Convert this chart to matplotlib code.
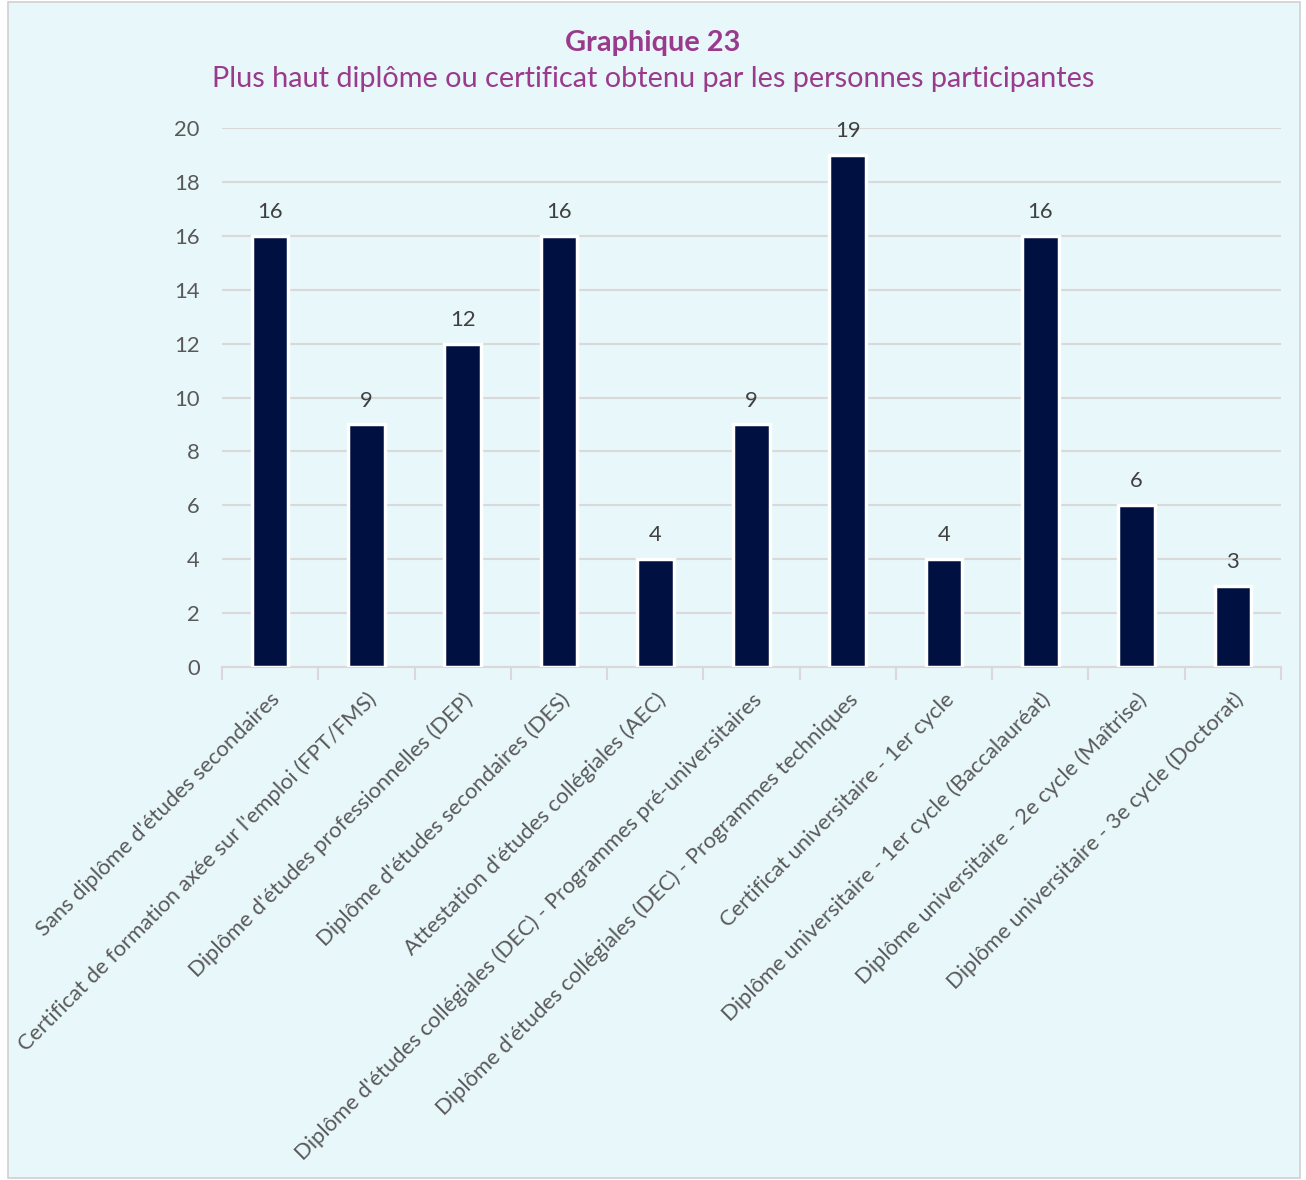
import matplotlib
matplotlib.use("Agg")
import matplotlib.pyplot as plt
from matplotlib.patches import Rectangle
import numpy as np

plt.rcParams["font.family"] = ["Lato", "DejaVu Sans"]

# ── Data ──────────────────────────────────────────────────────────────────────
categories = [
    "Sans diplôme d'études secondaires",
    "Certificat de formation axée sur l'emploi (FPT/FMS)",
    "Diplôme d'études professionnelles (DEP)",
    "Diplôme d'études secondaires (DES)",
    "Attestation d'études collégiales (AEC)",
    "Diplôme d'études collégiales (DEC) - Programmes pré-universitaires",
    "Diplôme d'études collégiales (DEC) - Programmes techniques",
    "Certificat universitaire - 1er cycle",
    "Diplôme universitaire - 1er cycle (Baccalauréat)",
    "Diplôme universitaire - 2e cycle (Maîtrise)",
    "Diplôme universitaire - 3e cycle (Doctorat)",
]
values = [16, 9, 12, 16, 4, 9, 19, 4, 16, 6, 3]
yticks = [0, 2, 4, 6, 8, 10, 12, 14, 16, 18, 20]

BG = "#E8F7FA"
BAR = "#001141"
GRID = "#D9D9D9"
TXT = "#595959"
PURPLE = "#9A3A8C"
FS = 15.8

fig = plt.figure(figsize=(13.06, 11.8), dpi=100)
fig.patch.set_facecolor("white")
fig.patches.append(Rectangle((8 / 1306, 2 / 1180), 1292 / 1306, 1176 / 1180,
                             transform=fig.transFigure, facecolor=BG,
                             edgecolor="#D0D0D0", linewidth=1.2, zorder=-1))

ax = fig.add_axes([222 / 1306, 1 - 667 / 1180, 1059 / 1306, 539 / 1180])
ax.set_facecolor("none")

x = np.arange(len(categories))
ax.bar(x, values, width=0.38, color=BAR, edgecolor="white",
       linewidth=2.5, zorder=3)

for xi, v in zip(x, values):
    ax.annotate(str(v), (xi, v), xytext=(0, 10), textcoords="offset points",
                ha="center", va="bottom", fontsize=FS, color="#404040")

ax.set_xlim(-0.5, len(categories) - 0.5)
ax.set_ylim(0, 20)
ax.set_yticks(yticks)
ax.tick_params(axis="y", length=0, labelsize=FS, labelcolor=TXT, pad=16)
ax.yaxis.grid(True, color=GRID, linewidth=1.5, zorder=0)

ax.set_xticks(x)
ax.set_xticklabels(categories, rotation=45, ha="right", rotation_mode="anchor",
                   fontsize=FS, color=TXT)
ax.tick_params(axis="x", which="major", length=0, pad=16)
ax.set_xticks(np.arange(len(categories) + 1) - 0.5, minor=True)
ax.tick_params(axis="x", which="minor", length=9, width=1.5, color=GRID)

for side in ["top", "right", "left"]:
    ax.spines[side].set_visible(False)
ax.spines["bottom"].set_color(GRID)
ax.spines["bottom"].set_linewidth(1.5)

fig.text(0.5, 1 - 43 / 1180, "Graphique 23", ha="center", va="center",
         fontsize=20.8, fontweight="bold", color=PURPLE)
fig.text(0.5, 1 - 79 / 1180,
         "Plus haut diplôme ou certificat obtenu par les personnes participantes",
         ha="center", va="center", fontsize=20.8, color=PURPLE)

fig.savefig("out.png", dpi=100, facecolor=fig.get_facecolor())
